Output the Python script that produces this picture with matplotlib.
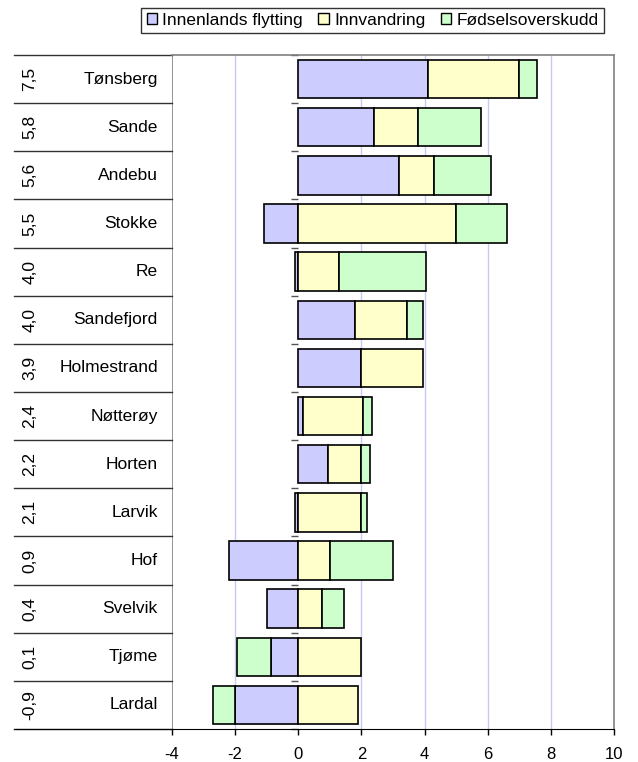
import numpy as np
import matplotlib
matplotlib.use("Agg")
import matplotlib.pyplot as plt
from matplotlib.patches import Patch

plt.rcParams["font.family"] = ["Liberation Sans", "DejaVu Sans"]

kommuner = ["Tønsberg", "Sande", "Andebu", "Stokke", "Re", "Sandefjord", "Holmestrand",
            "Nøtterøy", "Horten", "Larvik", "Hof", "Svelvik", "Tjøme", "Lardal"]
totals = [7.5, 5.8, 5.6, 5.5, 4.0, 4.0, 3.9, 2.4, 2.2, 2.1, 0.9, 0.4, 0.1, -0.9]
innenlands = [4.1, 2.4, 3.2, -1.1, -0.1, 1.8, 2.0, 0.15, 0.95, -0.1, -2.2, -1.0, -0.85, -2.0]
innvandring = [2.9, 1.4, 1.1, 5.0, 1.3, 1.65, 1.95, 1.9, 1.05, 2.0, 1.0, 0.75, 2.0, 1.9]
fodsel = [0.55, 2.0, 1.8, 1.6, 2.75, 0.5, 0.0, 0.3, 0.27, 0.18, 2.0, 0.7, -1.1, -0.7]

series = [("Innenlands flytting", innenlands, "#ccccff"),
          ("Innvandring", innvandring, "#ffffcc"),
          ("Fødselsoverskudd", fodsel, "#ccffcc")]

n = len(kommuner)
y = np.arange(n)[::-1]

fig = plt.figure(figsize=(6.38, 7.62), dpi=100)
left, right, top, bottom = 172 / 638, 614 / 638, 1 - 55 / 762, 1 - 729 / 762
ax = fig.add_axes([left, bottom, right - left, top - bottom])

pos_base = np.zeros(n)
neg_base = np.zeros(n)
for name, vals, color in series:
    vals = np.array(vals)
    base = np.where(vals >= 0, pos_base, neg_base)
    mask = vals != 0
    ax.barh(y[mask], vals[mask], left=base[mask], height=0.8, color=color,
            edgecolor="black", linewidth=1.2, zorder=3)
    pos_base = pos_base + np.where(vals > 0, vals, 0)
    neg_base = neg_base + np.where(vals < 0, vals, 0)

ax.set_xlim(-4, 10)
ax.set_ylim(-0.5, n - 0.5)
ax.set_xticks(np.arange(-4, 11, 2))
ax.set_xticklabels([str(v) for v in range(-4, 11, 2)])
ax.tick_params(axis="x", labelsize=12, length=4, width=1, direction="out", pad=9)
for gx in [-2, 2, 4, 6, 8]:
    ax.axvline(gx, color="#c8c8f8", linewidth=1, zorder=1)

# value axis at zero: only the small ticks between rows
ax.spines["left"].set_position(("data", 0))
ax.spines["left"].set_visible(False)
ax.set_yticks(np.arange(-0.5, n, 1))
ax.set_yticklabels([])
ax.tick_params(axis="y", length=5, width=1, direction="out", color="#555555")
for side in ["top", "right"]:
    ax.spines[side].set_color("#808080")
    ax.spines[side].set_linewidth(1.2)
ax.spines["bottom"].set_color("black")
ax.axvline(-4, color="#808080", linewidth=1.2, zorder=2)

# table on the left
tx0 = (14 - 172) / (614 - 172)
trans = ax.get_yaxis_transform()
for k in range(n + 1):
    yy = k - 0.5
    col = "black" if k == 0 else "#333333"
    ax.plot([tx0, 0], [yy, yy], transform=trans, color=col, linewidth=1, clip_on=False)
for yi, name, tot in zip(y, kommuner, totals):
    ax.text(-0.032, yi, name, transform=trans, ha="right", va="center", fontsize=12.5)
    ax.text(-0.321, yi, f"{tot:.1f}".replace(".", ","), transform=trans, ha="center",
            va="center", rotation=90, fontsize=12.5)

handles = [Patch(facecolor=c, edgecolor="black", linewidth=1, label=nm) for nm, _, c in series]
fig.legend(handles=handles, loc="center", bbox_to_anchor=(0.584, 0.973), ncol=3,
           fontsize=12.5, frameon=True, fancybox=False, edgecolor="black",
           handlelength=0.6, handleheight=0.6, handletextpad=0.3, columnspacing=0.9,
           borderpad=0.3)

fig.savefig("out.png", dpi=100)
